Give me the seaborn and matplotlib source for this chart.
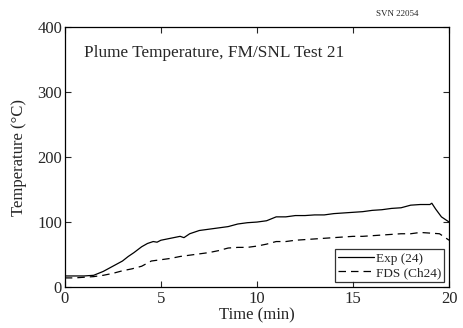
import matplotlib
matplotlib.use("Agg")
import matplotlib.pyplot as plt
import seaborn as sns
import pandas as pd

# experimental plume temperature (Exp 24)
exp_time = [0, 0.5, 1.0, 1.5, 2.0, 2.5, 3.0, 3.3, 3.6, 4.0, 4.3, 4.6, 4.8, 5.0, 5.5,
            6.0, 6.2, 6.5, 7.0, 7.5, 8.0, 8.5, 9.0, 9.5, 10.0, 10.5, 11.0, 11.5,
            12.0, 12.5, 13.0, 13.5, 14.0, 14.5, 15.0, 15.5, 16.0, 16.5, 17.0,
            17.5, 18.0, 18.5, 19.0, 19.1, 19.3, 19.6, 20.0]
exp_temp = [17, 17, 17, 18, 24, 32, 40, 47, 53, 62, 67, 70, 69, 72, 75,
            78, 76, 82, 87, 89, 91, 93, 97, 99, 100, 102, 108, 108,
            110, 110, 111, 111, 113, 114, 115, 116, 118, 119, 121,
            122, 126, 127, 127, 129, 120, 108, 100]

# FDS prediction (Ch24)
fds_time = [0, 0.5, 1.0, 1.5, 2.0, 2.5, 3.0, 3.5, 4.0, 4.5, 5.0, 5.5, 6.0, 6.5,
            7.0, 7.5, 8.0, 8.5, 9.0, 9.5, 10.0, 10.5, 11.0, 11.5, 12.0, 12.5,
            13.0, 13.5, 14.0, 14.5, 15.0, 15.5, 16.0, 16.5, 17.0, 17.5, 18.0,
            18.5, 19.0, 19.5, 20.0]
fds_temp = [14, 14, 15, 16, 18, 21, 25, 28, 32, 40, 42, 44, 47, 49,
            51, 53, 56, 60, 61, 61, 63, 66, 70, 70, 72, 73,
            74, 75, 76, 77, 78, 78, 79, 80, 81, 82, 82,
            84, 83, 82, 72]

exp_df = pd.DataFrame({"Time": exp_time, "Temperature": exp_temp})
fds_df = pd.DataFrame({"Time": fds_time, "Temperature": fds_temp})

sns.set_style("ticks")
plt.rcParams["font.family"] = ["Liberation Serif", "DejaVu Serif"]

fig, ax = plt.subplots(figsize=(4.63, 3.28), dpi=100)
fig.subplots_adjust(left=0.14, right=0.97, top=0.917, bottom=0.125)

sns.lineplot(data=exp_df, x="Time", y="Temperature", color="black", lw=0.9,
             label="Exp (24)", ax=ax)
sns.lineplot(data=fds_df, x="Time", y="Temperature", color="black", lw=0.9,
             linestyle=(0, (6, 4)), label="FDS (Ch24)", ax=ax)

ax.set_xlim(0, 20)
ax.set_ylim(0, 400)
ax.set_xticks([0, 5, 10, 15, 20])
ax.set_yticks([0, 100, 200, 300, 400])
ax.tick_params(direction="in", top=True, right=True, labelsize=12, length=4,
               width=0.8)
ax.tick_params(axis="x", pad=3)
ax.tick_params(axis="y", pad=2)
for s in ax.spines.values():
    s.set_linewidth(0.9)
    s.set_color("black")

ax.set_xlabel("Time (min)", fontsize=12, labelpad=0)
ax.set_ylabel("Temperature (°C)", fontsize=12, labelpad=7)

ax.text(0.05, 0.9, "Plume Temperature, FM/SNL Test 21", transform=ax.transAxes,
        fontsize=12.4, va="center", ha="left")
fig.text(0.858, 0.957, "SVN 22054", fontsize=6.5, ha="center", va="center")

leg = ax.legend(loc="lower right", fontsize=9.5, frameon=True, fancybox=False,
                borderaxespad=0.35, handlelength=2.7, handletextpad=0.15,
                borderpad=0.25, labelspacing=0.15)
leg.get_frame().set_edgecolor("black")
leg.get_frame().set_linewidth(0.9)

fig.savefig("out.png", dpi=100)
